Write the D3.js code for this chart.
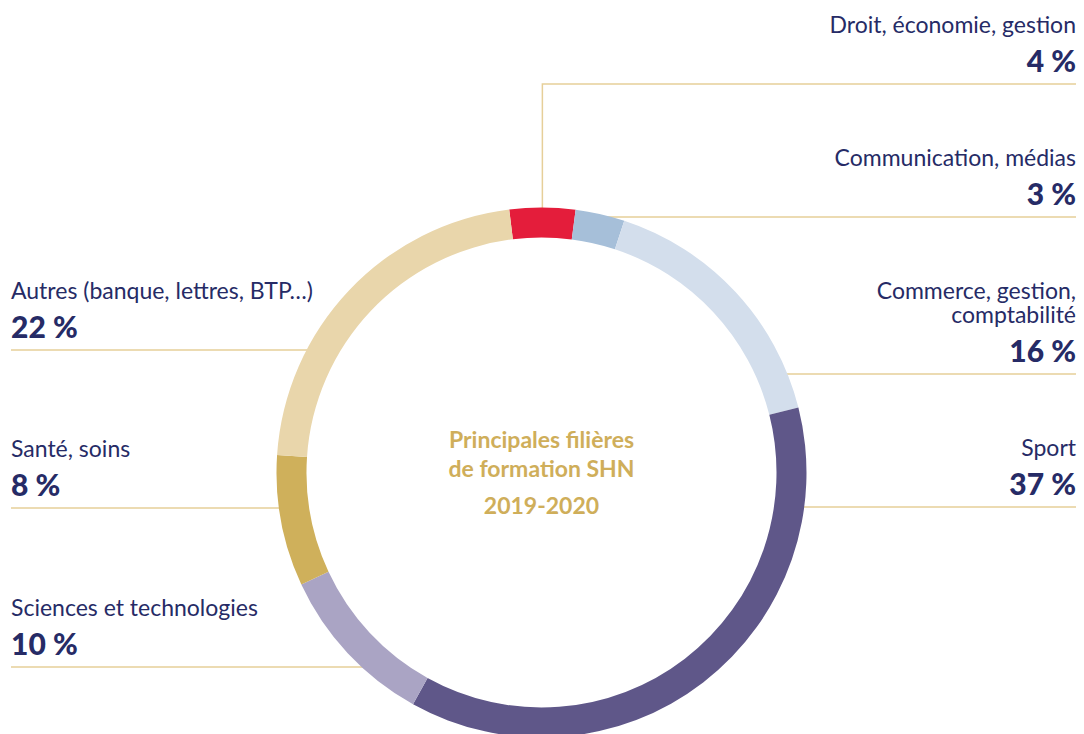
<!DOCTYPE html>
<html lang="fr">
<head>
<meta charset="utf-8">
<title>Filières SHN</title>
<script src="https://d3js.org/d3.v7.min.js"></script>
<style>
  body { margin: 0; background: #fff; }
  svg { display: block; font-family: Lato, "Open Sans", sans-serif; }
</style>
</head>
<body>
<script>
// données
var categories = ["Droit, économie, gestion", "Communication, médias", "Commerce, gestion, comptabilité",
                  "Sport", "Sciences et technologies", "Santé, soins", "Autres (banque, lettres, BTP…)"];
var values = [4, 3, 16, 37, 10, 8, 22];
var colors = ["#e41d3b", "#a6bfd9", "#d3deec", "#5f5789", "#aaa4c4", "#cfb05b", "#e9d6ab"];
var titleLines = ["Principales filières", "de formation SHN", "2019-2020"];

// mise en page des étiquettes (côté, y du filet, lignes de texte)
var labelLayout = [
  { side: "right", y: 84,  lines: ["Droit, économie, gestion"] },
  { side: "right", y: 217, lines: ["Communication, médias"] },
  { side: "right", y: 374, lines: ["Commerce, gestion,", "comptabilité"] },
  { side: "right", y: 507, lines: ["Sport"] },
  { side: "left",  y: 667, lines: ["Sciences et technologies"] },
  { side: "left",  y: 508, lines: ["Santé, soins"] },
  { side: "left",  y: 350, lines: ["Autres (banque, lettres, BTP…)"] }
];

var width = 1084, height = 734;
var cx = 541.5, cy = 472.5, rOut = 265, rIn = 235;
var xLeft = 11, xRight = 1076;
var navy = "#262b66", gold = "#cfae5a", rule = "#e6cf99";

var svg = d3.select("body").append("svg")
    .attr("width", width)
    .attr("height", height);

var data = categories.map(function(c, i) { return { name: c, value: values[i], color: colors[i], layout: labelLayout[i] }; });

var start = -7 * Math.PI / 180;
var pie = d3.pie().sort(null).value(function(d) { return d.value; })
    .startAngle(start).endAngle(start + 2 * Math.PI);
var arc = d3.arc().innerRadius(rIn).outerRadius(rOut);
var arcs = pie(data);

// filets
var rMid = (rIn + rOut) / 2;
var rules = svg.append("g").attr("stroke", rule).attr("stroke-width", 1.5).attr("fill", "none");
arcs.forEach(function(a) {
  var L = a.data.layout;
  var dy = L.y - cy;
  if (Math.abs(dy) > rMid) {
    // au-dessus de l'anneau : filet coudé depuis le centre du secteur
    var c = arc.centroid(a);
    rules.append("path")
      .attr("d", "M" + (cx + c[0]) + "," + (cy + c[1]) + "V" + L.y + "H" + xRight);
  } else {
    var dx = Math.sqrt(rMid * rMid - dy * dy);
    if (L.side === "right") {
      rules.append("line").attr("x1", cx + dx).attr("x2", xRight).attr("y1", L.y).attr("y2", L.y);
    } else {
      rules.append("line").attr("x1", xLeft).attr("x2", cx - dx).attr("y1", L.y).attr("y2", L.y);
    }
  }
});

// anneau
svg.append("g")
    .attr("transform", "translate(" + cx + "," + cy + ")")
  .selectAll("path")
  .data(arcs)
  .enter().append("path")
    .attr("d", arc)
    .attr("fill", function(d) { return d.data.color; });

// étiquettes
var labels = svg.append("g").selectAll("g")
  .data(data)
  .enter().append("g");

labels.each(function(d) {
  var g = d3.select(this), L = d.layout;
  var x = L.side === "right" ? xRight : xLeft;
  var anchor = L.side === "right" ? "end" : "start";
  var n = L.lines.length;
  L.lines.forEach(function(t, j) {
    g.append("text")
      .attr("x", x)
      .attr("y", L.y - 51 - (n - 1 - j) * 24)
      .attr("text-anchor", anchor)
      .attr("font-size", "23px")
      .attr("fill", navy)
      .text(t);
  });
  g.append("text")
    .attr("x", x)
    .attr("y", L.y - 12)
    .attr("text-anchor", anchor)
    .attr("font-size", "30px")
    .attr("font-weight", 900)
    .attr("fill", navy)
    .text(d.value + " %");
});

// titre central
svg.append("g").selectAll("text")
  .data(titleLines)
  .enter().append("text")
    .attr("x", cx)
    .attr("y", function(d, i) { return [448, 477, 514][i]; })
    .attr("text-anchor", "middle")
    .attr("font-size", "23px")
    .attr("font-weight", "bold")
    .attr("fill", gold)
    .text(function(d) { return d; });
</script>
</body>
</html>
